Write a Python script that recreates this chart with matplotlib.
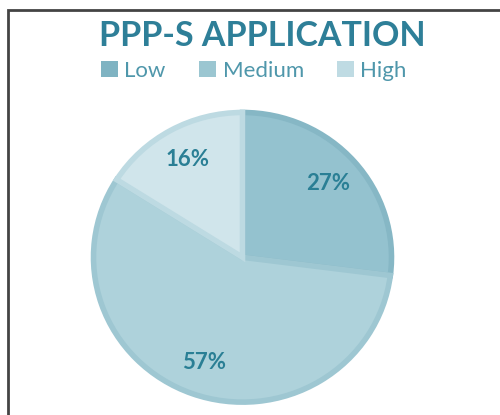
import matplotlib
matplotlib.use("Agg")
import matplotlib.pyplot as plt
from matplotlib.patches import Rectangle, Patch

labels = ['Low', 'Medium', 'High']
shares = [27, 57, 16]
fills = ['#94c2cf', '#aed2db', '#d0e5eb']
edges = ['#86b7c5', '#9ec7d2', '#bddae2']
legend_colors = ['#7fb3c2', '#9bc6d1', '#bfdbe3']

title_color = '#2e7f98'
text_color = '#2a7f95'

plt.rcParams['font.family'] = ['Lato', 'DejaVu Sans']

fig = plt.figure(figsize=(5, 4.15), dpi=100)
ax = fig.add_axes([0.187, 0.031, 0.596, 0.698])

wedges, texts, autotexts = ax.pie(
    shares, colors=fills, startangle=90, counterclock=False,
    autopct='%d%%', pctdistance=0.77,
    wedgeprops=dict(linewidth=4, joinstyle='miter', clip_on=False),
    textprops=dict(color=text_color, fontsize=16, fontweight='bold'))
for w, ec in zip(wedges, edges):
    w.set_edgecolor(ec)
ax.set_aspect('auto')
ax.set_xlim(-1, 1)
ax.set_ylim(-1, 1)

fig.text(0.524, 0.913, 'PPP-S APPLICATION', ha='center', va='center',
         fontsize=24.5, fontweight='bold', color=title_color)

handles = [Patch(facecolor=c, edgecolor='none') for c in legend_colors]
fig.legend(handles, labels, loc='center', bbox_to_anchor=(0.508, 0.83), ncol=3,
           frameon=False, fontsize=16, labelcolor='#4f97ab',
           handlelength=0.75, handleheight=0.75, handletextpad=0.3,
           columnspacing=1.5)

# chart frame, cropped at right and bottom
fig.add_artist(Rectangle((0.016, -0.2), 1.2, 0.2 + 0.976, transform=fig.transFigure,
                         fill=False, edgecolor='#444444', linewidth=2))

fig.savefig('out.png', dpi=100)
